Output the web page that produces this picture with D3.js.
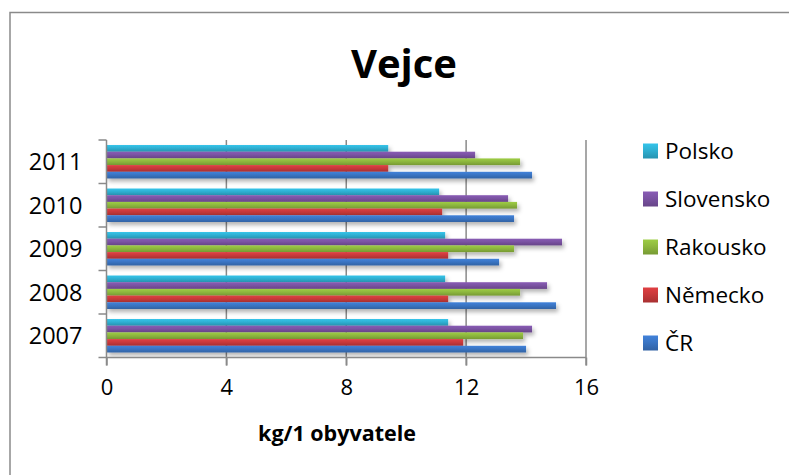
<!DOCTYPE html>
<html>
<head>
<meta charset="utf-8">
<script src="https://cdn.jsdelivr.net/npm/d3@7"></script>
<style>
  body { margin: 0; background: #fff; }
  svg { display: block; font-family: "Open Sans", "Noto Sans", sans-serif; }
</style>
</head>
<body>
<svg id="chart"></svg>
<script>
// data (kg per inhabitant)
const years = ["2011", "2010", "2009", "2008", "2007"];
const countries = ["Polsko", "Slovensko", "Rakousko", "Německo", "ČR"];
const polsko    = [9.4, 11.1, 11.3, 11.3, 11.4];
const slovensko = [12.3, 13.4, 15.2, 14.7, 14.2];
const rakousko  = [13.8, 13.7, 13.6, 13.8, 13.9];
const nemecko   = [9.4, 11.2, 11.4, 11.4, 11.9];
const cr        = [14.2, 13.6, 13.1, 15.0, 14.0];
const xTicks = [0, 4, 8, 12, 16];

const seriesValues = [polsko, slovensko, rakousko, nemecko, cr];
const colors = ["#2fb0d2", "#7b53a3", "#8eb83e", "#c9393b", "#3a75c4"];

const width = 789, height = 475;
const margin = { top: 140, right: 203, bottom: 117.5, left: 106.5 };

const svg = d3.select("#chart")
  .attr("width", width)
  .attr("height", height);

const defs = svg.append("defs");

// bar gradients (lighter on top, darker at the bottom)
colors.forEach((c, i) => {
  const grad = defs.append("linearGradient")
    .attr("id", "grad" + i)
    .attr("x1", 0).attr("y1", 0).attr("x2", 0).attr("y2", 1);
  grad.append("stop").attr("offset", "0%").attr("stop-color", d3.color(c).brighter(0.3));
  grad.append("stop").attr("offset", "45%").attr("stop-color", c);
  grad.append("stop").attr("offset", "100%").attr("stop-color", d3.color(c).darker(0.5));
});

defs.append("filter")
  .attr("id", "shadow")
  .attr("x", "-5%").attr("y", "-50%").attr("width", "115%").attr("height", "250%")
  .append("feDropShadow")
  .attr("dx", 2).attr("dy", 3).attr("stdDeviation", 2)
  .attr("flood-color", "#000").attr("flood-opacity", 0.3);

// outer frame
svg.append("rect")
  .attr("x", 10).attr("y", 12.5)
  .attr("width", width).attr("height", height)
  .attr("fill", "none")
  .attr("stroke", "#8a8a8a")
  .attr("stroke-width", 1.5);

const innerW = width - margin.left - margin.right;
const innerH = height - margin.top - margin.bottom;

const g = svg.append("g")
  .attr("transform", `translate(${margin.left},${margin.top})`);

const x = d3.scaleLinear().domain([0, 16]).range([0, innerW]);

const y0 = d3.scaleBand().domain(years).range([0, innerH]).paddingInner(0).paddingOuter(0);
const y1 = d3.scaleBand().domain(countries).range([0, y0.bandwidth()]).padding(0)
  .paddingOuter(0.75);

// vertical gridlines
g.append("g")
  .selectAll("line")
  .data(xTicks.slice(1))
  .join("line")
  .attr("x1", d => x(d)).attr("x2", d => x(d))
  .attr("y1", 0).attr("y2", innerH + 8)
  .attr("stroke", "#8a8a8a")
  .attr("stroke-width", 1.5);

// bars
const groups = g.append("g")
  .selectAll("g")
  .data(years)
  .join("g")
  .attr("transform", d => `translate(0,${y0(d)})`);

groups.selectAll("rect")
  .data((yr, yi) => countries.map((c, ci) => ({ c, ci, v: seriesValues[ci][yi] })))
  .join("rect")
  .attr("x", 0)
  .attr("y", d => y1(d.c))
  .attr("width", d => x(d.v))
  .attr("height", y1.bandwidth())
  .attr("fill", d => `url(#grad${d.ci})`)
  .attr("filter", "url(#shadow)");

// x axis
const xAxis = g.append("g")
  .attr("transform", `translate(0,${innerH})`)
  .call(d3.axisBottom(x).tickValues(xTicks).tickSize(8).tickPadding(14));
xAxis.select(".domain").attr("stroke", "#8a8a8a").attr("stroke-width", 1.5)
  .attr("d", `M-8,0H${innerW}`);
xAxis.selectAll(".tick line").attr("stroke", "#8a8a8a").attr("stroke-width", 1.5);
xAxis.selectAll(".tick text")
  .attr("fill", "#000")
  .attr("font-size", 22)
  .attr("font-family", "'Open Sans', sans-serif");

// y axis: ticks on band boundaries
g.append("line")
  .attr("x1", 0).attr("x2", 0)
  .attr("y1", 0).attr("y2", innerH + 8)
  .attr("stroke", "#8a8a8a").attr("stroke-width", 1.5);

g.append("g")
  .selectAll("line")
  .data(years)
  .join("line")
  .attr("x1", -8).attr("x2", 0)
  .attr("y1", d => y0(d)).attr("y2", d => y0(d))
  .attr("stroke", "#8a8a8a").attr("stroke-width", 1.5);

g.append("g")
  .selectAll("text")
  .data(years)
  .join("text")
  .attr("x", -24)
  .attr("y", d => y0(d) + y0.bandwidth() / 2)
  .attr("dy", "0.36em")
  .attr("text-anchor", "end")
  .attr("font-size", 23.5)
  .attr("fill", "#000")
  .text(d => d);

// axis title
svg.append("text")
  .attr("x", 337)
  .attr("y", 441)
  .attr("text-anchor", "middle")
  .attr("font-size", 21.5)
  .attr("font-weight", "bold")
  .attr("fill", "#000")
  .text("kg/1 obyvatele");

// chart title
svg.append("text")
  .attr("x", 404)
  .attr("y", 78)
  .attr("text-anchor", "middle")
  .attr("font-size", 40)
  .attr("font-weight", "bold")
  .attr("fill", "#000")
  .text("Vejce");

// legend
const legend = svg.append("g")
  .selectAll("g")
  .data(countries)
  .join("g")
  .attr("transform", (d, i) => `translate(643,${151 + i * 48})`);

legend.append("rect")
  .attr("x", 0).attr("y", -7.5)
  .attr("width", 15).attr("height", 15)
  .attr("fill", (d, i) => `url(#grad${i})`);

legend.append("text")
  .attr("x", 22)
  .attr("y", 0)
  .attr("dy", "0.36em")
  .attr("font-size", 22.5)
  .attr("fill", "#000")
  .text(d => d);
</script>
</body>
</html>
